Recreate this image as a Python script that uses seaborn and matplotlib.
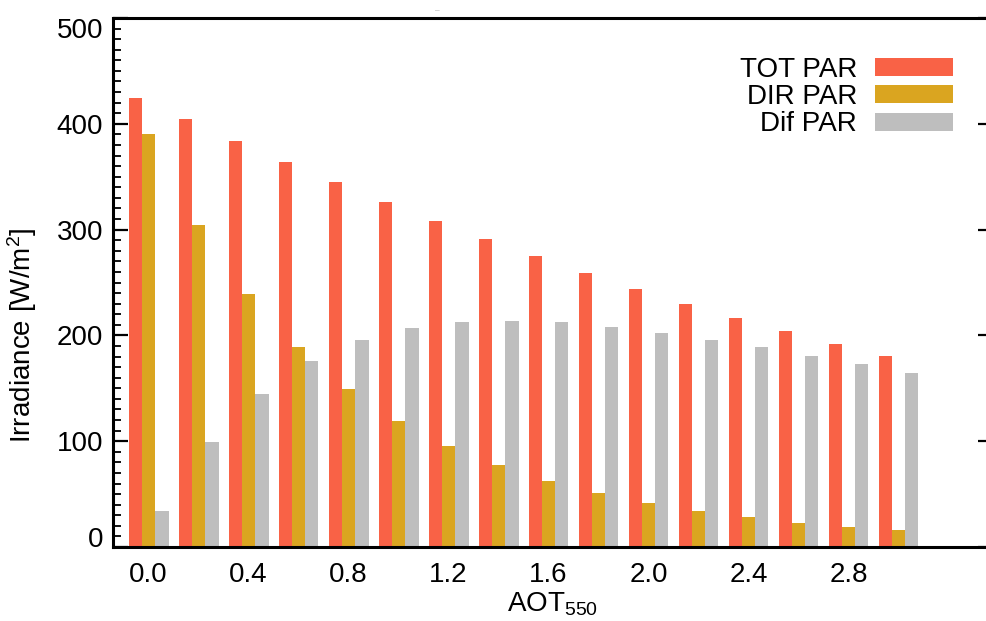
import numpy as np
import pandas as pd
import matplotlib
matplotlib.use("Agg")
import matplotlib.pyplot as plt
import seaborn as sns
from matplotlib.ticker import MultipleLocator, FixedLocator

# ---------------- data ----------------
aot = ["0.0", "0.2", "0.4", "0.6", "0.8", "1.0", "1.2", "1.4",
       "1.6", "1.8", "2.0", "2.2", "2.4", "2.6", "2.8", "3.0"]
tot_par = [424.6, 404.7, 383.9, 364.0, 345.0, 326.0, 308.0, 291.0,
           274.9, 258.8, 243.6, 229.4, 216.1, 203.8, 191.5, 180.1]
dir_par = [390.5, 304.3, 238.9, 188.6, 149.8, 119.4, 95.7, 77.7,
           62.6, 51.2, 41.7, 34.1, 28.4, 22.7, 19.0, 16.1]
dif_par = [34.1, 99.5, 145.0, 175.4, 195.3, 206.6, 212.3, 213.3,
           212.3, 207.6, 201.9, 195.3, 188.6, 180.1, 172.5, 164.0]
series = ["TOT PAR", "DIR PAR", "Dif PAR"]
colors = ["#F96246", "#DAA520", "#BEBEBE"]
xtick_labels = ["0.0", "0.4", "0.8", "1.2", "1.6", "2.0", "2.4", "2.8"]
ytick_values = [0, 100, 200, 300, 400, 500]

df = pd.DataFrame({
    "AOT": aot * 3,
    "Irradiance": tot_par + dir_par + dif_par,
    "Series": [s for s in series for _ in aot],
})

# ---------------- style ----------------
sns.set_style("ticks")
plt.rcParams["font.family"] = ["Liberation Sans", "DejaVu Sans"]
plt.rcParams["mathtext.fontset"] = "custom"
plt.rcParams["mathtext.rm"] = "Liberation Sans"
plt.rcParams["mathtext.it"] = "Liberation Sans:italic"
plt.rcParams["mathtext.bf"] = "Liberation Sans:bold"
plt.rcParams["text.color"] = "black"
plt.rcParams["axes.labelcolor"] = "black"
plt.rcParams["xtick.color"] = "black"
plt.rcParams["ytick.color"] = "black"

W, H = 986, 621
fig = plt.figure(figsize=(W / 100, H / 100), dpi=100)
ax = fig.add_axes([113 / W, 1 - 547 / H, 880 / W, 529 / H])

sns.barplot(data=df, x="AOT", y="Irradiance", hue="Series", order=aot,
            hue_order=series, palette=colors, saturation=1, width=0.8,
            gap=0, linewidth=0, ax=ax)

ax.set_xlim(-0.71, 16.89)
ax.set_ylim(0, 500)

# x ticks
bw = 0.8 / 3
major_pos = [aot.index(l) for l in xtick_labels]
ax.set_xticks(major_pos, labels=xtick_labels)
minor_pos = []
for i in range(len(aot)):
    minor_pos += [i - bw, i + bw]
ax.xaxis.set_minor_locator(FixedLocator(minor_pos))
ax.tick_params(axis="x", which="both", direction="in", length=6.5,
               width=1.8, top=False, bottom=True, color="black")
ax.tick_params(axis="x", which="major", labelsize=20, pad=11,
               labelcolor="black")

# y ticks
ax.set_yticks(ytick_values, labels=[str(v) for v in ytick_values])
ax.yaxis.set_minor_locator(MultipleLocator(10))
ax.tick_params(axis="y", which="major", direction="in", length=10.8,
               width=1.6, left=True, right=True, labelsize=20, pad=7,
               color="black", labelcolor="black")
ax.tick_params(axis="y", which="minor", direction="in", length=5.8,
               width=1.3, left=True, right=False, color="black")

for sp in ax.spines.values():
    sp.set_visible(True)
    sp.set_linewidth(2.2)
    sp.set_color("black")

ax.set_xlabel("AOT$_{550}$", fontsize=20, color="black")
ax.xaxis.set_label_coords(0.5, -0.083)
ax.set_ylabel("Irradiance [W/m$^2$]", fontsize=20, color="black")
ax.yaxis.set_label_coords(-0.084, 0.40)

handles, labels = ax.get_legend_handles_labels()
leg = ax.legend(handles, labels, loc="upper right",
                bbox_to_anchor=(0.9545, 0.927),
                markerfirst=False, frameon=False, fontsize=20,
                handlelength=2.8, handleheight=0.61, handletextpad=0.65,
                labelspacing=0.05, borderpad=0, borderaxespad=0)
for t in leg.get_texts():
    t.set_color("black")

fig.text(437 / W, 1 - 11 / H, "–", color="#aaaaaa", fontsize=6,
         ha="center", va="center")

fig.canvas.draw()
ylabels = ax.get_yticklabels()
ylabels[0].set_va("baseline")
ylabels[-1].set_va("top")

fig.savefig("out.png", dpi=100)
